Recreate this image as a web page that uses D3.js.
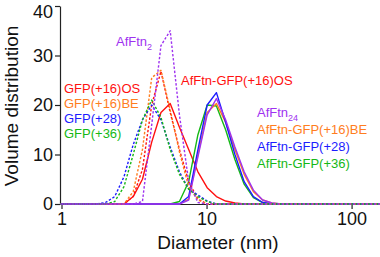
<!DOCTYPE html>
<html>
<head>
<meta charset="utf-8">
<script src="https://cdn.jsdelivr.net/npm/d3@7"></script>
<style>
	body { margin: 0; background: #fff; }
	svg text { font-family: "Liberation Sans", Arial, Helvetica, sans-serif; }
</style>
</head>
<body>
<div id="chart"></div>
<script>
'use strict';

// DLS size bins (nm)
var diam = [0.9649, 1.117, 1.294, 1.499, 1.736, 2.010, 2.328, 2.696, 3.122, 3.615,
	4.187, 4.849, 5.615, 6.503, 7.531, 8.721, 10.10, 11.70, 13.54, 15.69,
	18.17, 21.04, 24.36, 28.21, 32.67, 37.84, 43.82, 50.75, 58.77, 68.06,
	78.82, 91.28, 105.7, 122.4, 141.8, 164.2];

// volume distribution per bin (%)
var gfp16os   = [0,0,0,0,0,0,0,0,1.5,7, 20,26.8,18.5,11,4.5,1,0,0,0,0, 0,0,0,0,0,0,0,0,0,0, 0,0,0,0,0,0];
var gfp16be   = [0,0,0,0,0,0,0,0,2.5,11, 25.5,27,19,10.5,3.5,0.8,0,0,0,0, 0,0,0,0,0,0,0,0,0,0, 0,0,0,0,0,0];
var gfp28     = [0,0,0,0,0,0.3,1.5,5.5,12,17, 20,17,11.5,6.5,3,1.8,0.6,0,0,0, 0,0,0,0,0,0,0,0,0,0, 0,0,0,0,0,0];
var gfp36     = [0,0,0,0,0,0,0.5,3.5,10,17, 21,17.5,11,6,3,1.5,0.5,0,0,0, 0,0,0,0,0,0,0,0,0,0, 0,0,0,0,0,0];
var afftn2    = [0,0,0,0,0,0,0,0,0,0.5, 16,32,35,18,4.5,0.3,0,0,0,0, 0,0,0,0,0,0,0,0,0,0, 0,0,0,0,0,0];
var afGfp16os = [0,0,0,0,0,0,0,0,1.5,5, 12.5,18.5,20.3,15.5,11,6.5,3.3,1.5,0.6,0.2, 0,0,0,0,0,0,0,0,0,0, 0,0,0,0,0,0];
var afGfp16be = [0,0,0,0,0,0,0,0,0,0, 0,0,0,0,1,10,18.5,20.3,16.5,11, 6,2.5,0.8,0.2,0,0,0,0,0,0, 0,0,0,0,0,0];
var afGfp28   = [0,0,0,0,0,0,0,0,0,0, 0,0,0,0,1.5,11,20,22.5,16.5,10, 4.5,1.5,0.3,0,0,0,0,0,0,0, 0,0,0,0,0,0];
var afGfp36   = [0,0,0,0,0,0,0,0,0,0, 0,0,0,0.5,4.5,14,20,19.8,15,9, 4,1.3,0.3,0,0,0,0,0,0,0, 0,0,0,0,0,0];
var afftn24   = [0,0,0,0,0,0,0,0,0,0, 0,0,0,0,0.8,9.5,18,21.3,17,11.5, 6.5,2.8,0.8,0.2,0,0,0,0,0,0, 0,0,0,0,0,0];

var xTicks = [1, 10, 100];
var yTicks = [0, 10, 20, 30, 40];

var colors = {
	red: '#ff1010', orange: '#ff7d1e', blue: '#1c1cff',
	green: '#16b816', purple: '#9e32f0'
};

var series = [
	{ name: 'AfFtn-GFP(+16)OS', values: afGfp16os, color: colors.red, dashed: false },
	{ name: 'AfFtn-GFP(+36)', values: afGfp36, color: colors.green, dashed: false },
	{ name: 'AfFtn-GFP(+16)BE', values: afGfp16be, color: colors.orange, dashed: false },
	{ name: 'AfFtn-GFP(+28)', values: afGfp28, color: colors.blue, dashed: false },
	{ name: 'AfFtn24', values: afftn24, color: colors.purple, dashed: false },
	{ name: 'GFP(+16)OS', values: gfp16os, color: colors.red, dashed: true },
	{ name: 'GFP(+16)BE', values: gfp16be, color: colors.orange, dashed: true },
	{ name: 'GFP(+28)', values: gfp28, color: colors.blue, dashed: true },
	{ name: 'GFP(+36)', values: gfp36, color: colors.green, dashed: true },
	{ name: 'AfFtn2', values: afftn2, color: colors.purple, dashed: true }
];

var leftLegend = [
	{ text: 'GFP(+16)OS', color: colors.red },
	{ text: 'GFP(+16)BE', color: colors.orange },
	{ text: 'GFP(+28)', color: colors.blue },
	{ text: 'GFP(+36)', color: colors.green }
];

var rightLegend = [
	{ text: 'AfFtn', sub: '24', color: colors.purple },
	{ text: 'AfFtn-GFP(+16)BE', color: colors.orange },
	{ text: 'AfFtn-GFP(+28)', color: colors.blue },
	{ text: 'AfFtn-GFP(+36)', color: colors.green }
];

var width = 380, height = 257;
var margin = { top: 6, right: 0, bottom: 53, left: 61.5 };

var svg = d3.select('#chart').append('svg')
	.attr('width', width)
	.attr('height', height);

var x = d3.scaleLog()
	.domain([1, 157])
	.range([margin.left, width - margin.right]);

var y = d3.scaleLinear()
	.domain([0, 40])
	.range([height - margin.bottom, margin.top]);

svg.append('defs').append('clipPath')
	.attr('id', 'plotclip')
	.append('rect')
	.attr('x', margin.left - 1)
	.attr('y', 0)
	.attr('width', width - margin.left + 1)
	.attr('height', height - margin.bottom + 3);

// axes
var xaxis = d3.axisBottom(x)
	.tickValues(xTicks)
	.tickFormat(d3.format('d'))
	.tickSizeInner(5)
	.tickSizeOuter(0)
	.tickPadding(3);

var yaxis = d3.axisLeft(y)
	.tickValues(yTicks)
	.tickSizeInner(5)
	.tickSizeOuter(0)
	.tickPadding(2);

var gx = svg.append('g')
	.attr('transform', 'translate(0, ' + y(0) + ')')
	.call(xaxis);

var gy = svg.append('g')
	.attr('transform', 'translate(' + (margin.left - 1.5) + ', 0)')
	.call(yaxis);

[gx, gy].forEach(function (g)	{
	g.selectAll('path, line').attr('stroke', '#222').attr('stroke-width', 1.2);
	g.selectAll('text')
		.attr('fill', '#111')
		.style('font-size', '18px');
});

// top label sits a little below its tick, as in the source figure
gy.selectAll('.tick text')
	.filter(function (d) { return d === 40; })
	.attr('dy', '0.62em');

// curves
var line = d3.line()
	.x(function (d) { return x(d.d); })
	.y(function (d) { return y(d.v); });

svg.append('g')
	.attr('clip-path', 'url(#plotclip)')
	.selectAll('path')
	.data(series)
	.enter().append('path')
	.attr('fill', 'none')
	.attr('stroke', function (s) { return s.color; })
	.attr('stroke-width', 1.4)
	.attr('stroke-linejoin', 'round')
	.attr('stroke-dasharray', function (s) { return s.dashed ? '2.4,1.8' : null; })
	.attr('d', function (s)	{
		return line(s.values.map(function (v, i) { return { d: diam[i], v: v }; }));
	});

// labels
svg.append('text')
	.attr('transform', 'translate(17.5, 106) rotate(-90)')
	.attr('text-anchor', 'middle')
	.style('font-size', '19px')
	.attr('fill', '#111')
	.text('Volume distribution');

svg.append('text')
	.attr('x', 218)
	.attr('y', 249)
	.attr('text-anchor', 'middle')
	.style('font-size', '19px')
	.attr('fill', '#111')
	.text('Diameter (nm)');

var t2 = svg.append('text')
	.attr('x', 116)
	.attr('y', 46)
	.attr('fill', colors.purple)
	.style('font-size', '13px')
	.text('AfFtn');
t2.append('tspan')
	.attr('dy', 4)
	.style('font-size', '9px')
	.text('2');

svg.append('text')
	.attr('x', 181)
	.attr('y', 85)
	.attr('fill', colors.red)
	.style('font-size', '13px')
	.text('AfFtn-GFP(+16)OS');

svg.selectAll('.leftleg')
	.data(leftLegend)
	.enter().append('text')
	.attr('class', 'leftleg')
	.attr('x', 64)
	.attr('y', function (d, i) { return 93 + i * 15; })
	.attr('fill', function (d) { return d.color; })
	.style('font-size', '13px')
	.text(function (d) { return d.text; });

var rl = svg.selectAll('.rightleg')
	.data(rightLegend)
	.enter().append('text')
	.attr('class', 'rightleg')
	.attr('x', 257)
	.attr('y', function (d, i) { return 117 + i * 17; })
	.attr('fill', function (d) { return d.color; })
	.style('font-size', '13px')
	.text(function (d) { return d.text; });

rl.filter(function (d) { return d.sub; })
	.append('tspan')
	.attr('dy', 4)
	.style('font-size', '9px')
	.text(function (d) { return d.sub; });
</script>
</body>
</html>
